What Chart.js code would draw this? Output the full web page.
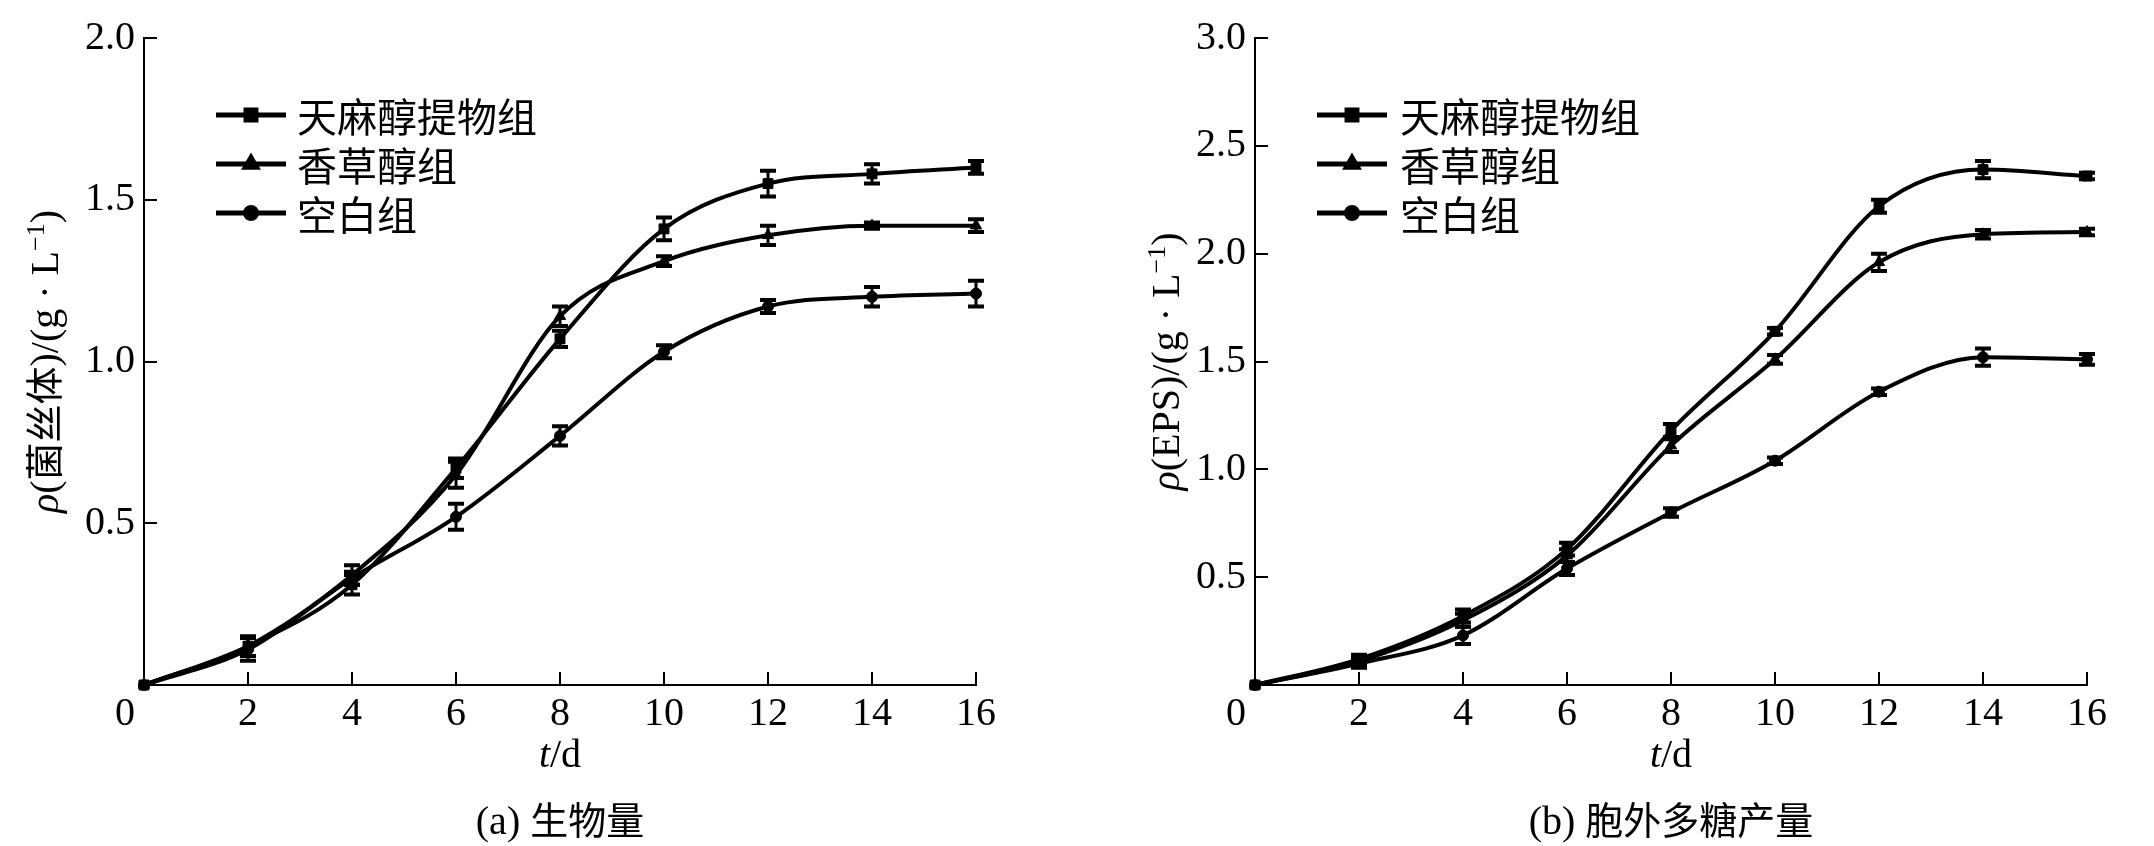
<!DOCTYPE html>
<html>
<head>
<meta charset="utf-8">
<script src="https://cdn.jsdelivr.net/npm/chart.js@4.4.1/dist/chart.umd.min.js"></script>
<style>
html, body { margin: 0; padding: 0; background: #fff; }
#wrap { position: relative; width: 2154px; height: 846px; }
canvas { position: absolute; top: 0; }
</style>
</head>
<body>
<div id="wrap">
  <canvas id="chartA" width="1077" height="846" style="left:0"></canvas>
  <canvas id="chartB" width="1077" height="846" style="left:1077px"></canvas>
</div>
<script>
// culture time, d
var days = [0, 2, 4, 6, 8, 10, 12, 14, 16];
var groupNames = ['天麻醇提物组', '香草醇组', '空白组'];
var markerStyles = ['rect', 'triangle', 'circle'];
var markerSizes = [7, 6.5, 5.5];

// (a) mycelium biomass, g/L
var bioExtract = [0, 0.12, 0.31, 0.67, 1.07, 1.41, 1.55, 1.58, 1.60];
var bioVanillyl = [0, 0.12, 0.34, 0.65, 1.14, 1.31, 1.39, 1.42, 1.42];
var bioBlank = [0, 0.11, 0.33, 0.52, 0.77, 1.03, 1.17, 1.20, 1.21];
var bioErrExtract = [0, 0.03, 0.03, 0.03, 0.025, 0.035, 0.04, 0.03, 0.02];
var bioErrVanillyl = [0, 0.03, 0.03, 0.04, 0.03, 0.015, 0.03, 0.01, 0.02];
var bioErrBlank = [0, 0.035, 0.02, 0.04, 0.03, 0.02, 0.02, 0.03, 0.04];

// (b) EPS yield, g/L
var epsExtract = [0, 0.12, 0.32, 0.63, 1.18, 1.64, 2.22, 2.39, 2.36];
var epsVanillyl = [0, 0.11, 0.30, 0.60, 1.11, 1.51, 1.96, 2.09, 2.10];
var epsBlank = [0, 0.10, 0.23, 0.54, 0.80, 1.04, 1.36, 1.52, 1.51];
var epsErrExtract = [0, 0.02, 0.03, 0.03, 0.03, 0.015, 0.03, 0.04, 0.015];
var epsErrVanillyl = [0, 0.02, 0.03, 0.03, 0.03, 0.02, 0.04, 0.02, 0.015];
var epsErrBlank = [0, 0.02, 0.04, 0.03, 0.02, 0.015, 0.015, 0.04, 0.025];

var SERIF = '"Liberation Serif", "Times New Roman", serif';
var CJK = '"Noto Sans CJK SC", sans-serif';

// draw a row of differently styled text pieces centred on cx, baseline y
function drawRuns(ctx, runs, cx, y) {
  var total = 0;
  runs.forEach(function (r) {
    ctx.font = r.font;
    r.w = ctx.measureText(r.text).width;
    total += r.w;
  });
  var x = cx - total / 2;
  ctx.textAlign = 'left';
  ctx.textBaseline = 'alphabetic';
  runs.forEach(function (r) {
    ctx.font = r.font;
    ctx.fillText(r.text, x, y + (r.dy || 0));
    x += r.w;
  });
}

var decorPlugin = {
  id: 'decor',
  afterDatasetsDraw: function (chart) {
    var ctx = chart.ctx;
    var xs = chart.scales.x, ys = chart.scales.y;
    ctx.save();
    ctx.strokeStyle = '#000';
    chart.data.datasets.forEach(function (ds) {
      ds.data.forEach(function (p, i) {
        var e = ds.errorBars[i];
        if (!e) return;
        var px = xs.getPixelForValue(p.x);
        var top = ys.getPixelForValue(p.y + e);
        var bot = ys.getPixelForValue(p.y - e);
        ctx.lineWidth = 3;
        ctx.beginPath();
        ctx.moveTo(px, top); ctx.lineTo(px, bot);
        ctx.stroke();
        ctx.lineWidth = 4;
        ctx.beginPath();
        ctx.moveTo(px - 8, top); ctx.lineTo(px + 8, top);
        ctx.moveTo(px - 8, bot); ctx.lineTo(px + 8, bot);
        ctx.stroke();
      });
    });
    ctx.restore();
  },
  afterDraw: function (chart) {
    var o = chart.options.plugins.decor;
    var ctx = chart.ctx;
    var xs = chart.scales.x, ys = chart.scales.y;
    var area = chart.chartArea;
    ctx.save();
    ctx.fillStyle = '#000';
    ctx.strokeStyle = '#000';

    // inward tick marks
    ctx.lineWidth = 2;
    ctx.beginPath();
    xs.ticks.forEach(function (t) {
      if (t.value === 0) return;
      var px = Math.round(xs.getPixelForValue(t.value));
      ctx.moveTo(px, area.bottom); ctx.lineTo(px, area.bottom - 13);
    });
    ys.ticks.forEach(function (t) {
      if (t.value === 0) return;
      var py = Math.round(ys.getPixelForValue(t.value));
      ctx.moveTo(area.left, py); ctx.lineTo(area.left + 13, py);
    });
    ctx.stroke();

    // x tick labels, the 0 sits left of the corner
    ctx.font = '40px ' + SERIF;
    ctx.textAlign = 'center';
    ctx.textBaseline = 'alphabetic';
    xs.ticks.forEach(function (t) {
      var px = xs.getPixelForValue(t.value);
      if (t.value === 0) px -= 19;
      ctx.fillText(String(t.value), px, area.bottom + 40);
    });

    // legend
    chart.data.datasets.forEach(function (ds, i) {
      var ly = o.legendY + i * 49;
      ctx.lineWidth = 5;
      ctx.beginPath();
      ctx.moveTo(o.legendX, ly); ctx.lineTo(o.legendX + 70, ly);
      ctx.stroke();
      Chart.helpers.drawPoint(ctx, { pointStyle: ds.pointStyle, radius: ds.pointRadius, borderWidth: 1, rotation: 0 },
        o.legendX + 35, ly);
      ctx.font = '40px ' + CJK;
      ctx.textAlign = 'left';
      ctx.textBaseline = 'middle';
      ctx.fillText(ds.label, o.legendX + o.legendGap, ly + 2);
    });

    // y axis title
    ctx.save();
    ctx.translate(o.yTitleX, (area.top + area.bottom) / 2);
    ctx.rotate(-Math.PI / 2);
    drawRuns(ctx, o.yTitle, 0, 13);
    ctx.restore();

    // x axis title and caption
    var cx = (area.left + area.right) / 2;
    drawRuns(ctx, [
      { text: 't', font: 'italic 40px ' + SERIF },
      { text: '/d', font: '40px ' + SERIF }
    ], cx, 767);
    drawRuns(ctx, o.caption, cx, 834);
    ctx.restore();
  }
};

function buildChart(id, series, errors, yMax, padLeft, padRight, decor) {
  var datasets = series.map(function (vals, i) {
    return {
      label: groupNames[i],
      data: days.map(function (d, k) { return { x: d, y: vals[k] }; }),
      errorBars: errors[i],
      borderColor: '#000',
      backgroundColor: '#000',
      borderWidth: 4,
      pointStyle: markerStyles[i],
      pointRadius: markerSizes[i],
      pointBorderWidth: 1,
      pointBackgroundColor: '#000',
      cubicInterpolationMode: 'monotone',
      clip: false
    };
  });
  return new Chart(document.getElementById(id), {
    type: 'line',
    data: { datasets: datasets },
    options: {
      responsive: false,
      animation: false,
      devicePixelRatio: 1,
      layout: { padding: { left: 0, top: 38, right: padRight, bottom: 0 } },
      plugins: { legend: { display: false }, tooltip: { enabled: false }, decor: decor },
      scales: {
        x: {
          type: 'linear', min: 0, max: 16,
          ticks: { stepSize: 2, display: false },
          grid: { display: false, drawTicks: false },
          border: { display: true, color: '#000', width: 2 },
          afterFit: function (s) { s.height = 161; }
        },
        y: {
          min: 0, max: yMax,
          ticks: {
            stepSize: 0.5, color: '#000', padding: 9,
            font: { family: SERIF, size: 40 },
            callback: function (v) { return v === 0 ? '' : v.toFixed(1); }
          },
          grid: { display: false, drawTicks: false },
          border: { display: true, color: '#000', width: 2 },
          afterFit: function (s) { s.width = padLeft; }
        }
      }
    },
    plugins: [decorPlugin]
  });
}

buildChart('chartA',
  [bioExtract, bioVanillyl, bioBlank],
  [bioErrExtract, bioErrVanillyl, bioErrBlank],
  2.0, 144, 101,
  {
    legendX: 216, legendY: 115, legendGap: 81, yTitleX: 45,
    yTitle: [
      { text: 'ρ', font: 'italic 40px ' + SERIF },
      { text: '(', font: '40px ' + SERIF },
      { text: '菌丝体', font: '38px ' + CJK },
      { text: ')/(g · L', font: '40px ' + SERIF },
      { text: '−1', font: '26px ' + SERIF, dy: -14 },
      { text: ')', font: '40px ' + SERIF }
    ],
    caption: [
      { text: '(a) ', font: '40px ' + SERIF },
      { text: '生物量', font: '38px ' + CJK }
    ]
  });

buildChart('chartB',
  [epsExtract, epsVanillyl, epsBlank],
  [epsErrExtract, epsErrVanillyl, epsErrBlank],
  3.0, 178, 67,
  {
    legendX: 240, legendY: 115, legendGap: 83, yTitleX: 89,
    yTitle: [
      { text: 'ρ', font: 'italic 40px ' + SERIF },
      { text: '(EPS)/(g · L', font: '40px ' + SERIF },
      { text: '−1', font: '26px ' + SERIF, dy: -14 },
      { text: ')', font: '40px ' + SERIF }
    ],
    caption: [
      { text: '(b) ', font: '40px ' + SERIF },
      { text: '胞外多糖产量', font: '38px ' + CJK }
    ]
  });
</script>
</body>
</html>
